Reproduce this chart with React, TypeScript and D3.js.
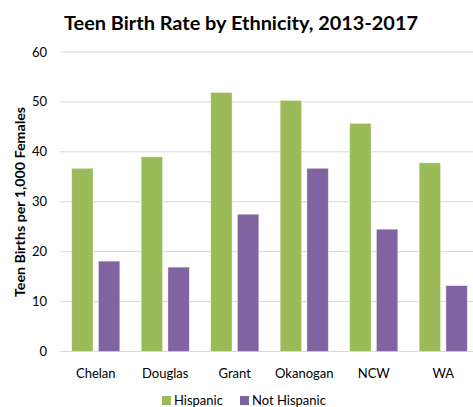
import React from "react";
import * as d3 from "d3";

const categories = ["Chelan", "Douglas", "Grant", "Okanogan", "NCW", "WA"];
const seriesNames = ["Hispanic", "Not Hispanic"];
const hispanic = [36.7, 39.0, 51.9, 50.3, 45.7, 37.8];
const notHispanic = [18.1, 16.9, 27.5, 36.7, 24.5, 13.2];
const yTicks = [0, 10, 20, 30, 40, 50, 60];
const colors = ["#9BBB59", "#8064A2"];

const W = 473, H = 407;
const FONT = "Lato, 'Open Sans', sans-serif";

export default function App() {
  const x = d3.scaleBand<string>().domain(categories).range([61, 478]).paddingInner(0).paddingOuter(0);
  const x1 = d3.scaleBand<string>().domain(seriesNames).range([0, x.bandwidth()]).paddingInner(0.2).paddingOuter(0.4);
  const y = d3.scaleLinear().domain([0, 60]).range([351.5, 52]);
  const data = [hispanic, notHispanic];
  return (
    <svg width={W} height={H} style={{ position: "absolute", left: 0, top: 0, fontFamily: FONT }}>
      <rect width={W} height={H} fill="#fff" />
      <text x={241} y={30} textAnchor="middle" fontSize={19.5} fontWeight="bold" fill="#000" textLength={354} lengthAdjust="spacingAndGlyphs">
        Teen Birth Rate by Ethnicity, 2013-2017
      </text>
      {yTicks.map((t) => (
        <g key={t}>
          <line x1={60} x2={473} y1={y(t)} y2={y(t)} stroke="#d9d9d9" strokeWidth={1} />
          <text x={47} y={y(t) + 4.5} textAnchor="end" fontSize={13} fill="#000">{t}</text>
        </g>
      ))}
      <text transform={`translate(24.5,${202}) rotate(-90)`} textAnchor="middle" fontSize={13.5} fontWeight="bold" fill="#000" textLength={190} lengthAdjust="spacingAndGlyphs">
        Teen Births per 1,000 Females
      </text>
      {categories.map((c, i) => (
        <g key={c}>
          {seriesNames.map((s, j) => {
            const v = data[j][i];
            return (
              <rect key={s} x={(x(c) as number) + (x1(s) as number)} y={y(v)} width={x1.bandwidth()} height={y(0) - y(v)}
                fill={colors[j]} stroke="rgba(255,255,255,0.5)" strokeWidth={0.75} />
            );
          })}
          <text x={(x(c) as number) + x.bandwidth() / 2} y={378} textAnchor="middle" fontSize={13} fill="#000">{c}</text>
        </g>
      ))}
      {seriesNames.map((s, j) => {
        const lx = j === 0 ? 162 : 240;
        return (
          <g key={s}>
            <rect x={lx} y={396} width={9} height={9} fill={colors[j]} />
            <text x={lx + 12} y={405} fontSize={13} fill="#000">{s}</text>
          </g>
        );
      })}
    </svg>
  );
}
